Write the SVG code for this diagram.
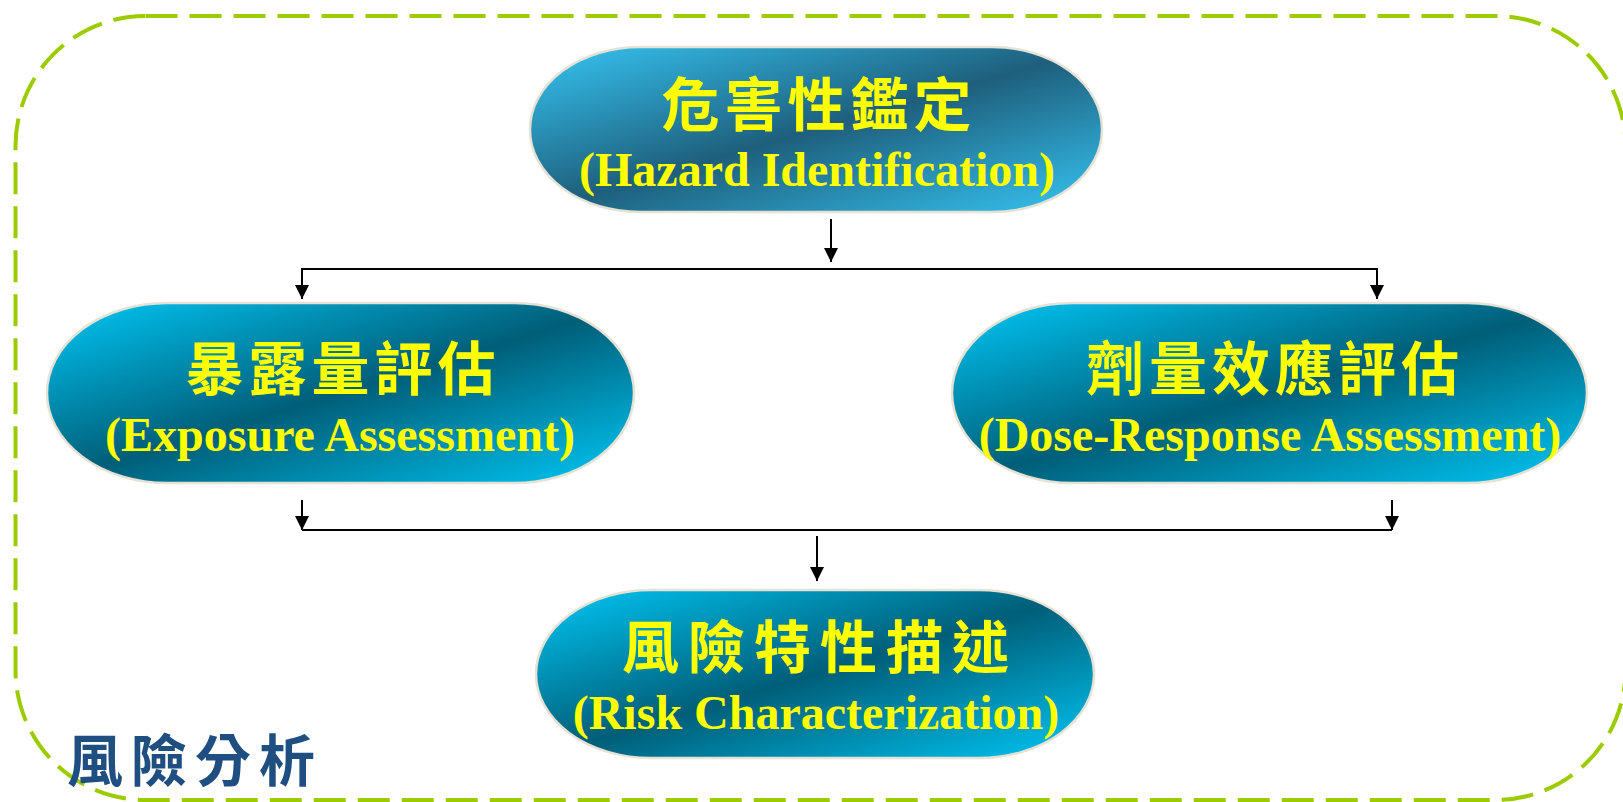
<svg xmlns="http://www.w3.org/2000/svg" width="1623" height="802" viewBox="0 0 1623 802">
<style>
.node{stroke:#E6E2D6;stroke-width:2.5}
.cn{font-family:"Noto Sans CJK TC","Noto Sans CJK SC",sans-serif;font-weight:700;fill:#FFFF00;text-anchor:middle}
.en{font-family:"Liberation Serif","Times New Roman",serif;font-weight:700;fill:#FFFF00;text-anchor:middle;font-size:48px}
.conn{stroke:#000;stroke-width:2;fill:none}
</style>
<defs>
<linearGradient id="gTop" x1="0" y1="0" x2="1" y2="1">
<stop offset="0" stop-color="#36C6F4"/>
<stop offset="0.5" stop-color="#1E5F7C"/>
<stop offset="1" stop-color="#36C6F4"/>
</linearGradient>
<linearGradient id="gMid" x1="0" y1="0" x2="1" y2="1">
<stop offset="0" stop-color="#00C8F6"/>
<stop offset="0.5" stop-color="#005E78"/>
<stop offset="1" stop-color="#00C8F6"/>
</linearGradient>
<marker id="arr" viewBox="0 0 14 14" refX="14" refY="7" markerWidth="14" markerHeight="14" markerUnits="userSpaceOnUse" orient="auto">
<path d="M0,0 L14,7 L0,14 Z" fill="#000"/>
</marker>
</defs>
<rect width="1623" height="802" fill="#FFFFFF"/>
<g id="frame">
<rect x="15.5" y="16" width="1610" height="784" rx="130" ry="130" fill="none" stroke="#9CCC00" stroke-width="4" stroke-dasharray="32 12"/>
<text x="67" y="781" font-family="Noto Sans CJK TC,Noto Sans CJK SC,sans-serif" font-weight="700" font-size="56" letter-spacing="8" fill="#1F4E80">風險分析</text>
</g>
<g id="connectors">
<line class="conn" x1="831" y1="219" x2="831" y2="262" marker-end="url(#arr)"/>
<line class="conn" x1="302" y1="269" x2="1377" y2="269"/>
<line class="conn" x1="302" y1="268" x2="302" y2="299" marker-end="url(#arr)"/>
<line class="conn" x1="1377" y1="268" x2="1377" y2="299" marker-end="url(#arr)"/>
<line class="conn" x1="302" y1="530" x2="1392" y2="530"/>
<line class="conn" x1="302" y1="500" x2="302" y2="530" marker-end="url(#arr)"/>
<line class="conn" x1="1392" y1="500" x2="1392" y2="530" marker-end="url(#arr)"/>
<line class="conn" x1="817" y1="536" x2="817" y2="581" marker-end="url(#arr)"/>
</g>
<g id="hazard">
<rect class="node" x="530" y="47" width="572" height="165" rx="110" ry="82" fill="url(#gTop)"/>
<text class="cn" x="819" y="126" font-size="58" letter-spacing="5">危害性鑑定</text>
<text class="en" x="817" y="186">(Hazard Identification)</text>
</g>
<g id="exposure">
<rect class="node" x="47" y="303" width="587" height="180" rx="120" ry="90" fill="url(#gMid)"/>
<text class="cn" x="343" y="390" font-size="58" letter-spacing="5">暴露量評估</text>
<text class="en" x="340" y="451">(Exposure Assessment)</text>
</g>
<g id="doseresponse">
<rect class="node" x="952" y="303" width="635" height="180" rx="120" ry="90" fill="url(#gMid)"/>
<text class="cn" x="1275" y="390" font-size="58" letter-spacing="5">劑量效應評估</text>
<text class="en" x="1270" y="451">(Dose-Response Assessment)</text>
</g>
<g id="riskchar">
<rect class="node" x="536" y="590" width="558" height="168" rx="115" ry="84" fill="url(#gMid)"/>
<text class="cn" x="820" y="668" font-size="57" letter-spacing="9">風險特性描述</text>
<text class="en" x="816" y="729">(Risk Characterization)</text>
</g>
</svg>
